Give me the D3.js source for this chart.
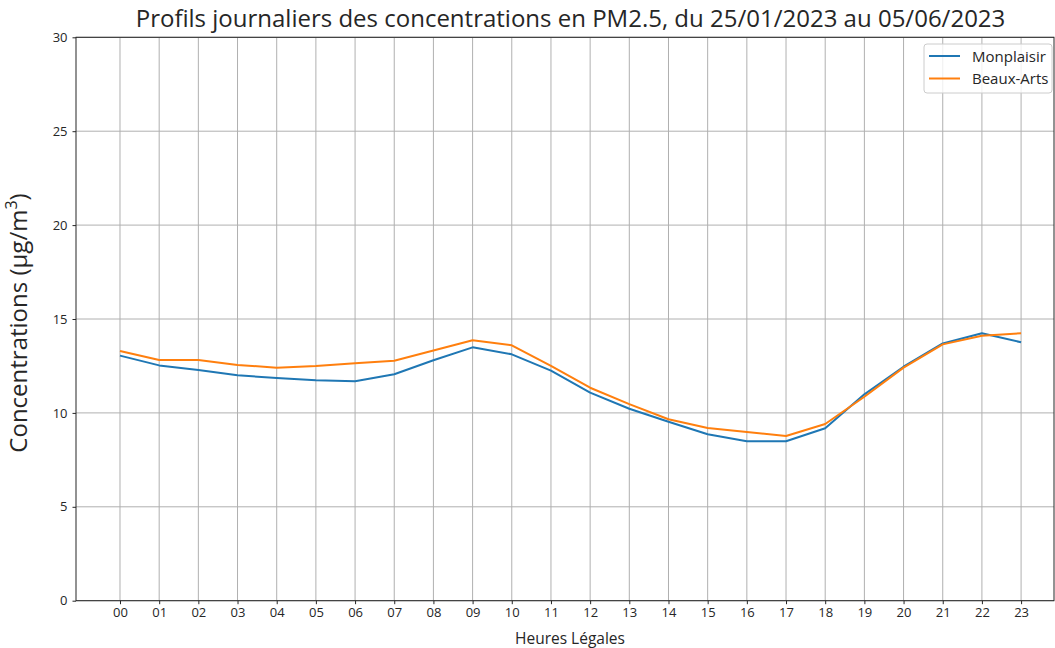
<!DOCTYPE html>
<html><head><meta charset="utf-8">
<script src="https://cdn.jsdelivr.net/npm/d3@7"></script>
<style>body{margin:0;background:#fff;} svg{display:block;font-family:"Open Sans",sans-serif;}</style>
</head><body><svg id="c" width="1055" height="648"></svg>
<script>
const hours = ["00","01","02","03","04","05","06","07","08","09","10","11","12","13","14","15","16","17","18","19","20","21","22","23"];
const monplaisir = [13.05,12.53,12.28,12.0,11.86,11.74,11.68,12.06,12.8,13.49,13.12,12.25,11.08,10.22,9.53,8.86,8.49,8.49,9.18,10.99,12.46,13.7,14.24,13.76];
const beauxArts = [13.3,12.82,12.82,12.55,12.41,12.5,12.64,12.78,13.32,13.87,13.6,12.5,11.34,10.47,9.66,9.2,8.98,8.77,9.41,10.86,12.41,13.65,14.11,14.24];
const yTicks = [0,5,10,15,20,25,30];
const seriesNames = ["Monplaisir","Beaux-Arts"];
const colors = ["#1f77b4","#ff7f0e"];

const FONT="Open Sans";
const L=76,R=1054,T=37.3,B=600.7;
const svg=d3.select("#c");
const x=d3.scaleLinear().domain([-1.123,23.84]).range([L,R]);
const y=d3.scaleLinear().domain([0,30]).range([B,T]);

// grid
const g=svg.append("g");
g.selectAll("line.vx").data(hours).enter().append("line")
 .attr("x1",(d,i)=>x(i)).attr("x2",(d,i)=>x(i)).attr("y1",T).attr("y2",B)
 .attr("stroke","#b0b0b0").attr("stroke-width",1);
g.selectAll("line.hy").data(yTicks).enter().append("line")
 .attr("x1",L).attr("x2",R).attr("y1",d=>y(d)).attr("y2",d=>y(d))
 .attr("stroke","#b0b0b0").attr("stroke-width",1);

// axes
const xAxis=d3.axisBottom(x).tickValues(d3.range(hours.length)).tickFormat(i=>hours[i]).tickSize(3.5).tickPadding(4);
const ax=svg.append("g").attr("transform",`translate(0,${B})`).call(xAxis);
const yAxis=d3.axisLeft(y).tickValues(yTicks).tickSize(3.5).tickPadding(5);
const ay=svg.append("g").attr("transform",`translate(${L},0)`).call(yAxis);
[ax,ay].forEach(a=>{a.select(".domain").remove();a.selectAll("text").attr("font-size",13).attr("fill","#262626").attr("font-family",FONT);a.selectAll("line").attr("stroke","#262626");});

// spines
svg.append("rect").attr("x",L).attr("y",T).attr("width",R-L).attr("height",B-T).attr("fill","none").attr("stroke","#262626").attr("stroke-width",1);

// lines
const line=d3.line().x((d,i)=>x(i)).y(d=>y(d));
[monplaisir,beauxArts].forEach((s,k)=>{
 svg.append("path").datum(s).attr("d",line).attr("fill","none").attr("stroke",colors[k]).attr("stroke-width",2).attr("stroke-linejoin","round");
});

// title
svg.append("text").attr("x",570.5).attr("y",27).attr("text-anchor","middle").attr("font-size",24).attr("fill","#262626")
 .text("Profils journaliers des concentrations en PM2.5, du 25/01/2023 au 05/06/2023");
// x label
svg.append("text").attr("x",570).attr("y",644).attr("text-anchor","middle").attr("font-size",15.5).attr("fill","#262626").text("Heures Légales");
// y label
const yl=svg.append("text").attr("transform",`translate(27,323) rotate(-90)`).attr("text-anchor","middle").attr("font-size",24).attr("fill","#262626");
yl.append("tspan").text("Concentrations (µg/m");
yl.append("tspan").attr("font-size",16).attr("dy",-10).text("3");
yl.append("tspan").attr("dy",10).text(")");

// legend
const lg=svg.append("g");
lg.append("rect").attr("x",924).attr("y",44).attr("width",128).attr("height",49).attr("rx",3).attr("fill","#fff").attr("fill-opacity",0.8).attr("stroke","#cccccc");
seriesNames.forEach((n,k)=>{
 const yy=56+k*22.5;
 lg.append("line").attr("x1",929).attr("x2",960).attr("y1",yy).attr("y2",yy).attr("stroke",colors[k]).attr("stroke-width",2);
 lg.append("text").attr("x",972).attr("y",yy+5.5).attr("font-size",15).attr("fill","#262626").text(n);
});
</script></body></html>
